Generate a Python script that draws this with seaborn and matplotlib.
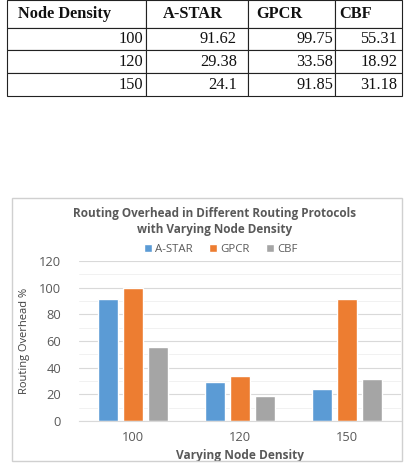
import matplotlib
matplotlib.use("Agg")
import matplotlib.pyplot as plt
import seaborn as sns
import pandas as pd
from matplotlib.patches import Rectangle

# --- data ---
densities = ["100", "120", "150"]
protocols = ["A-STAR", "GPCR", "CBF"]
astar = [91.62, 29.38, 24.1]
gpcr = [99.75, 33.58, 91.85]
cbf = [55.31, 18.92, 31.18]
table_header = ["Node Density", "A-STAR", "GPCR", "CBF"]
table_values = [["100", "91.62", "99.75", "55.31"],
                ["120", "29.38", "33.58", "18.92"],
                ["150", "24.1", "91.85", "31.18"]]
colors = ["#5B9BD5", "#ED7D31", "#A5A5A5"]

W, H = 409, 469
sns.set_style("white")
plt.rcParams["font.family"] = ["Open Sans", "DejaVu Sans"]

fig = plt.figure(figsize=(W / 100, H / 100), dpi=100)

def px_axes(x0, y0, x1, y1):
    # pixel box (top-left origin) -> figure fraction
    return [x0 / W, 1 - y1 / H, (x1 - x0) / W, (y1 - y0) / H]

# --- table on top ---
ax_t = fig.add_axes(px_axes(7, 0, 402, 96))
ax_t.axis("off")
col_w = [139, 102, 87, 67]
tbl = ax_t.table(cellText=table_values, colLabels=table_header,
                 colWidths=[w / sum(col_w) for w in col_w],
                 cellLoc="right", loc="center", bbox=[0, 0, 1, 1])
tbl.auto_set_font_size(False)
head_pad = [0.08, 0.17, 0.10, 0.07]
body_pad = [0.02, 0.11, 0.02, 0.07]
for (r, c), cell in tbl.get_celld().items():
    cell.set_edgecolor("#222222")
    cell.set_linewidth(0.8)
    cell.set_height(28 if r == 0 else 23)
    txt = cell.get_text()
    txt.set_fontfamily("Liberation Serif")
    txt.set_fontsize(11.8)
    txt.set_color("#111111")
    if r == 0:
        txt.set_fontweight("bold")
        txt.set_horizontalalignment("left")
        cell._loc = "left"
        cell.PAD = head_pad[c]
    else:
        cell.PAD = body_pad[c]

# --- chart box ---
fig.patches.append(Rectangle((12 / W, 1 - 461 / H), 390 / W, 263 / H,
                             transform=fig.transFigure, fill=False,
                             edgecolor="#D0D0D0", linewidth=1.0))

df = pd.DataFrame({
    "density": densities * 3,
    "protocol": [p for p in protocols for _ in densities],
    "overhead": astar + gpcr + cbf,
})

ax = fig.add_axes(px_axes(79, 261, 401, 421))
sns.barplot(data=df, x="density", y="overhead", hue="protocol",
            order=densities, hue_order=protocols, palette=colors,
            width=0.7, gap=0.2, saturation=1, ax=ax, legend=True)

ax.set_ylim(0, 120)
ax.set_yticks(range(0, 121, 20))
ax.set_yticks(range(0, 121, 10), minor=True)
ax.grid(axis="y", which="major", color="#D9D9D9", linewidth=0.8)
ax.grid(axis="y", which="minor", color="#EFEFEF", linewidth=0.6)
ax.set_axisbelow(True)
for s in ["top", "right", "left"]:
    ax.spines[s].set_visible(False)
ax.spines["bottom"].set_color("#D9D9D9")
ax.tick_params(axis="both", which="both", length=0, labelsize=9.3,
               labelcolor="#595959")
ax.tick_params(axis="y", pad=13)
ax.tick_params(axis="x", pad=7)

ax.set_xlabel("Varying Node Density", fontsize=8.6, fontweight="bold",
              color="#595959", labelpad=4)
ax.set_ylabel("Routing Overhead %", fontsize=8, color="#404040",
              labelpad=6)

leg = ax.legend(loc="lower center", bbox_to_anchor=(0.44, 1.0), ncol=3,
                frameon=False, fontsize=8.2, handlelength=0.7,
                handleheight=0.7, handletextpad=0.3, columnspacing=1.4,
                borderaxespad=0.1)
for t in leg.get_texts():
    t.set_color("#595959")

fig.text((70 + 360) / 2 / W, 1 - 214 / H,
         "Routing Overhead in Different Routing Protocols",
         ha="center", va="center", fontsize=8.5, fontweight="bold",
         color="#595959")
fig.text((70 + 360) / 2 / W, 1 - 229 / H, "with Varying Node Density",
         ha="center", va="center", fontsize=8.5, fontweight="bold",
         color="#595959")

fig.savefig("out.png", dpi=100)
